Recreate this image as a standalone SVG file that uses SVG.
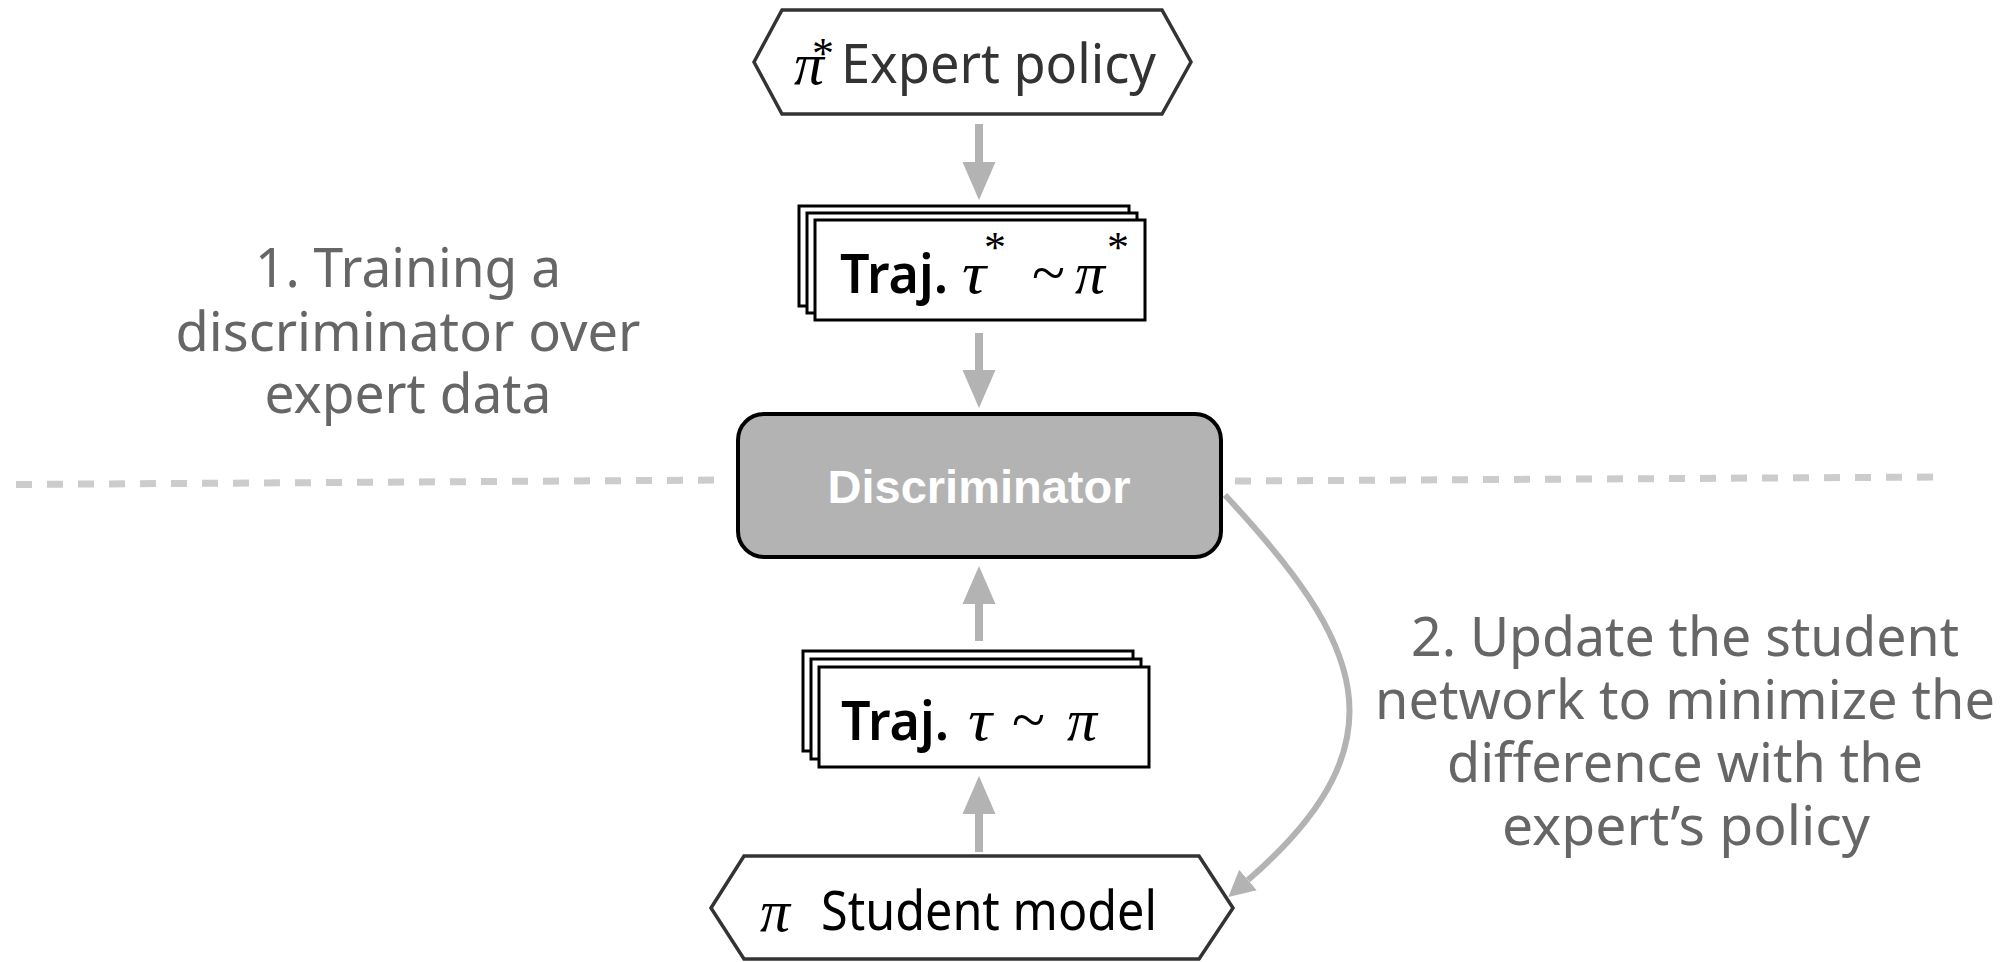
<svg xmlns="http://www.w3.org/2000/svg" width="2010" height="962" viewBox="0 0 2010 962">
  <style>
    .hex { fill: #ffffff; stroke: #333333; stroke-width: 3.5; stroke-linejoin: miter; }
    .traj { fill: #ffffff; stroke: #000000; stroke-width: 3; }
    .disc { fill: #b3b3b3; stroke: #000000; stroke-width: 4; }
    .sans { font-family: "Noto Sans", "Open Sans", sans-serif; }
    .math { font-family: "Liberation Serif", "DejaVu Serif", serif; font-style: italic; font-size: 60px; fill: #000000; }
    .star { font-family: "Liberation Serif", "DejaVu Serif", serif; font-size: 44px; fill: #000000; }
    .rel { font-family: "Liberation Serif", "DejaVu Serif", serif; font-size: 62px; fill: #000000; }
    .note { font-family: "Noto Sans", "Open Sans", sans-serif; font-size: 55px; fill: #666666; }
    .sep { stroke: #cccccc; stroke-width: 7; stroke-dasharray: 16 15; fill: none; }
    .flow { stroke: #b3b3b3; stroke-width: 8; fill: none; }
    .loop { stroke: #b3b3b3; stroke-width: 6; fill: none; }
  </style>
  <defs>
    <marker id="head" viewBox="0 -17 38 34" markerWidth="38" markerHeight="34" refX="0" refY="0" orient="auto" markerUnits="userSpaceOnUse">
      <path d="M0,-16.5 L38,0 L0,16.5 Z" fill="#b3b3b3"/>
    </marker>
    <marker id="headSmall" viewBox="0 -14 26 28" markerWidth="26" markerHeight="28" refX="0" refY="0" orient="auto" markerUnits="userSpaceOnUse">
      <path d="M0,-13.5 L26,0 L0,13.5 Z" fill="#b3b3b3"/>
    </marker>
  </defs>

  <rect width="2010" height="962" fill="#ffffff"/>

  <!-- phase separator -->
  <g id="separator">
    <line class="sep" x1="16" y1="484.5" x2="728" y2="480"/>
    <line class="sep" x1="1235" y1="481" x2="1946" y2="477"/>
  </g>

  <!-- connectors -->
  <g id="connectors">
    <line class="flow" x1="979" y1="124" x2="979" y2="162" marker-end="url(#head)"/>
    <line class="flow" x1="979" y1="333" x2="979" y2="370" marker-end="url(#head)"/>
    <line class="flow" x1="979" y1="641" x2="979" y2="604" marker-end="url(#head)"/>
    <line class="flow" x1="979" y1="852" x2="979" y2="814" marker-end="url(#head)"/>
    <path class="loop" d="M1225,495 C1360,640 1410,740 1248,880" marker-end="url(#headSmall)"/>
  </g>

  <!-- expert policy -->
  <g id="expert-policy">
    <polygon class="hex" points="754,62 782,10 1162,10 1191,62 1162,114 782,114"/>
    <text class="math" x="794" y="84" textLength="30" lengthAdjust="spacingAndGlyphs">π</text>
    <text class="star" x="812" y="68">*</text>
    <text class="sans" x="841" y="83" font-size="54" fill="#333333" textLength="315" lengthAdjust="spacingAndGlyphs">Expert policy</text>
  </g>

  <!-- expert trajectories -->
  <g id="expert-trajectories">
    <rect class="traj" x="799" y="206" width="330" height="100"/>
    <rect class="traj" x="807" y="213" width="330" height="100"/>
    <rect class="traj" x="815" y="220" width="330" height="100"/>
    <text class="sans" x="840" y="293" font-size="54" font-weight="600" fill="#000000" textLength="108" lengthAdjust="spacingAndGlyphs">Traj.</text>
    <text class="math" x="962" y="293" textLength="24" lengthAdjust="spacingAndGlyphs">τ</text>
    <text class="star" x="984" y="262">*</text>
    <text class="rel" x="1032" y="293" textLength="33" lengthAdjust="spacingAndGlyphs">~</text>
    <text class="math" x="1075" y="293" textLength="30" lengthAdjust="spacingAndGlyphs">π</text>
    <text class="star" x="1107" y="262">*</text>
  </g>

  <!-- discriminator -->
  <g id="discriminator">
    <rect class="disc" x="738" y="414" width="483" height="143" rx="26" ry="26"/>
    <text x="979" y="503" font-family="Liberation Sans, Arial, sans-serif" font-size="47" font-weight="bold" fill="#ffffff" text-anchor="middle">Discriminator</text>
  </g>

  <!-- student trajectories -->
  <g id="student-trajectories">
    <rect class="traj" x="803" y="651" width="330" height="100"/>
    <rect class="traj" x="811" y="659" width="330" height="100"/>
    <rect class="traj" x="819" y="667" width="330" height="100"/>
    <text class="sans" x="841" y="740" font-size="54" font-weight="600" fill="#000000" textLength="108" lengthAdjust="spacingAndGlyphs">Traj.</text>
    <text class="math" x="968" y="740" textLength="24" lengthAdjust="spacingAndGlyphs">τ</text>
    <text class="rel" x="1012" y="740" textLength="33" lengthAdjust="spacingAndGlyphs">~</text>
    <text class="math" x="1067" y="740" textLength="30" lengthAdjust="spacingAndGlyphs">π</text>
  </g>

  <!-- student model -->
  <g id="student-model">
    <polygon class="hex" points="711,908 744,856 1199,856 1233,908 1199,959 744,959"/>
    <text class="math" x="760" y="931" textLength="30" lengthAdjust="spacingAndGlyphs">π</text>
    <text class="sans" x="821" y="930" font-size="54" fill="#000000" textLength="336" lengthAdjust="spacingAndGlyphs">Student model</text>
  </g>

  <!-- phase notes -->
  <g id="note-training">
    <text class="note" x="408" y="287" text-anchor="middle" textLength="306" lengthAdjust="spacingAndGlyphs">1. Training a</text>
    <text class="note" x="408" y="351" text-anchor="middle" textLength="465" lengthAdjust="spacingAndGlyphs">discriminator over</text>
    <text class="note" x="408" y="413" text-anchor="middle" textLength="287" lengthAdjust="spacingAndGlyphs">expert data</text>
  </g>
  <g id="note-update">
    <text class="note" x="1685" y="656" text-anchor="middle" textLength="548" lengthAdjust="spacingAndGlyphs">2. Update the student</text>
    <text class="note" x="1685" y="719" text-anchor="middle" font-size="52" textLength="620" lengthAdjust="spacingAndGlyphs">network to minimize the</text>
    <text class="note" x="1685" y="782" text-anchor="middle" textLength="476" lengthAdjust="spacingAndGlyphs">difference with the</text>
    <text class="note" x="1686" y="845" text-anchor="middle" textLength="368" lengthAdjust="spacingAndGlyphs">expert’s policy</text>
  </g>
</svg>
